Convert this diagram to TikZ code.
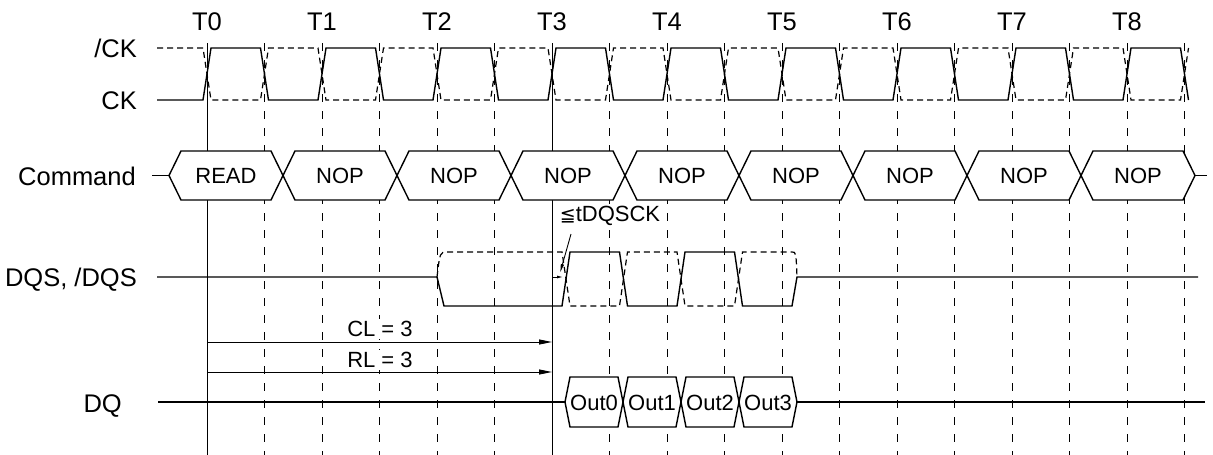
\documentclass[tikz,border=0pt]{standalone}
\usepackage{fontspec}
\setmainfont{Liberation Sans}
\newfontfamily\symfont{DejaVu Sans}
\usetikzlibrary{arrows.meta}
\tikzset{
    every node/.style={inner sep=0pt, text depth=0pt}
}
\tikzset{
    rowlabel/.style={anchor=east, text height=18pt,
    	font=\fontsize{25.5}{28}\selectfont},
    ticklabel/.style={text height=18pt, font=\fontsize{25.5}{28}\selectfont},
    cell/.style={text height=15.8pt, font=\fontsize{22}{24}\selectfont},
    masked/.style={cell, fill=white, inner sep=2pt}
}
\tikzset{
    wave/.style={line width=1.4pt, line join=miter},
    ghost/.style={line width=1.2pt, dash pattern=on 6pt off 4pt},
    grid/.style={line width=0.8pt, dash pattern=on 8pt off 9pt},
    edgeline/.style={line width=0.9pt},
    lat/.style={line width=0.9pt, -{Triangle[length=13pt,width=5pt]}}
}

\begin{document}
\begin{tikzpicture}[x=1pt, y=-1pt]
	\useasboundingbox (0,0) rectangle (1213,455);
	% clock edges
	\foreach \k in {1,...,17}
		\draw[grid] ({207+57.5*\k},43) -- ({207+57.5*\k},455);
	\draw[edgeline] (207,43) -- (207,455);
	\draw[edgeline] (552,43) -- (552,455);
	\foreach \k in {0,...,8}
		\node[ticklabel] (t\k) at ({207+115*\k},21) {T\k};
	
	\node[rowlabel] (nck) at (137,48) {/CK};
	\node[rowlabel] (ck) at (137,100) {CK};
	\node[rowlabel] (cmd) at (136,176) {Command};
	\node[rowlabel] (dqs) at (137,277) {DQS, /DQS};
	\node[rowlabel] (dq) at (122,403) {DQ};
	
	% CK and /CK
	\draw[ghost] (157,48) foreach \k in {0,...,8} {
		-- ({203+115*\k},48) -- ({211+115*\k},100)
		-- ({260.5+115*\k},100) -- ({268.5+115*\k},48) };
	\draw[wave] (157,100) foreach \k in {0,...,8} {
		-- ({203+115*\k},100) -- ({211+115*\k},48)
		-- ({260.5+115*\k},48) -- ({268.5+115*\k},100) };
	
	% command bus
	\draw[wave] (152,175.5) -- (169,175.5);
	\draw[wave] (1195,175.5) -- (1207,175.5);
	\foreach \k/\txt in {0/READ,1/NOP,2/NOP,3/NOP,4/NOP,5/NOP,6/NOP,7/NOP,8/NOP} {
		\draw[wave, fill=white] ({169+114*\k},175.5) -- ++(12,-24.5) -- ++(90,0)
			-- ++(12,24.5) -- ++(-12,24.5) -- ++(-90,0) -- cycle;
		\node[cell] (c\k) at ({226+114*\k},176) {\txt};
	}
	
	% DQS
	\draw[ghost] (437,277) .. controls (440,252) .. (447,252) -- (562,252)
		-- (570,306) -- (619.5,306) -- (627.5,252) -- (677,252) -- (685,306)
		-- (734.5,306) -- (742.5,252) -- (792,252) .. controls (796,252) .. (797,277);
	\draw[wave] (157,277) -- (437,277) -- (444,306) -- (562,306) -- (570,252)
		-- (619.5,252) -- (627.5,306) -- (677,306) -- (685,252) -- (734.5,252)
		-- (742.5,306) -- (792,306) -- (797,277) -- (1198,277);
	
	\node[masked, inner sep=1pt] (dqsck) at (610,214)
		{{\symfont\fontsize{19}{20}\selectfont ≦}tDQSCK};
	\coordinate (skA) at (571,234);
	\coordinate (skB) at (560,273);
	\coordinate (skC) at (552,277);
	\coordinate (skD) at (563,277);
	\draw[edgeline, -{Latex[length=9pt,width=3.5pt]}] (skA) -- (skB);
	\draw[edgeline, -{Latex[length=6pt,width=3pt]}] (skC) -- (skD);
	
	% latencies
	\coordinate (clA) at (207,342);
	\coordinate (clB) at (552,342);
	\coordinate (rlA) at (207,372);
	\coordinate (rlB) at (552,372);
	\draw[lat] (clA) -- (clB);
	\draw[lat] (rlA) -- (rlB);
	\node[masked] (cl) at (380,329) {CL = 3};
	\node[masked] (rl) at (380,360) {RL = 3};
	
	% DQ
	\draw[wave] (158,402) -- (565,402);
	\draw[wave] (797,402) -- (1205,402);
	\foreach \k in {0,...,3} {
		\draw[wave, fill=white] ({565+58*\k},402) -- ++(5,-25) -- ++(48,0)
			-- ++(5,25) -- ++(-5,25) -- ++(-48,0) -- cycle;
		\node[cell] (o\k) at ({594+58*\k},403) {Out\k};
	}
\end{tikzpicture}
\end{document}
